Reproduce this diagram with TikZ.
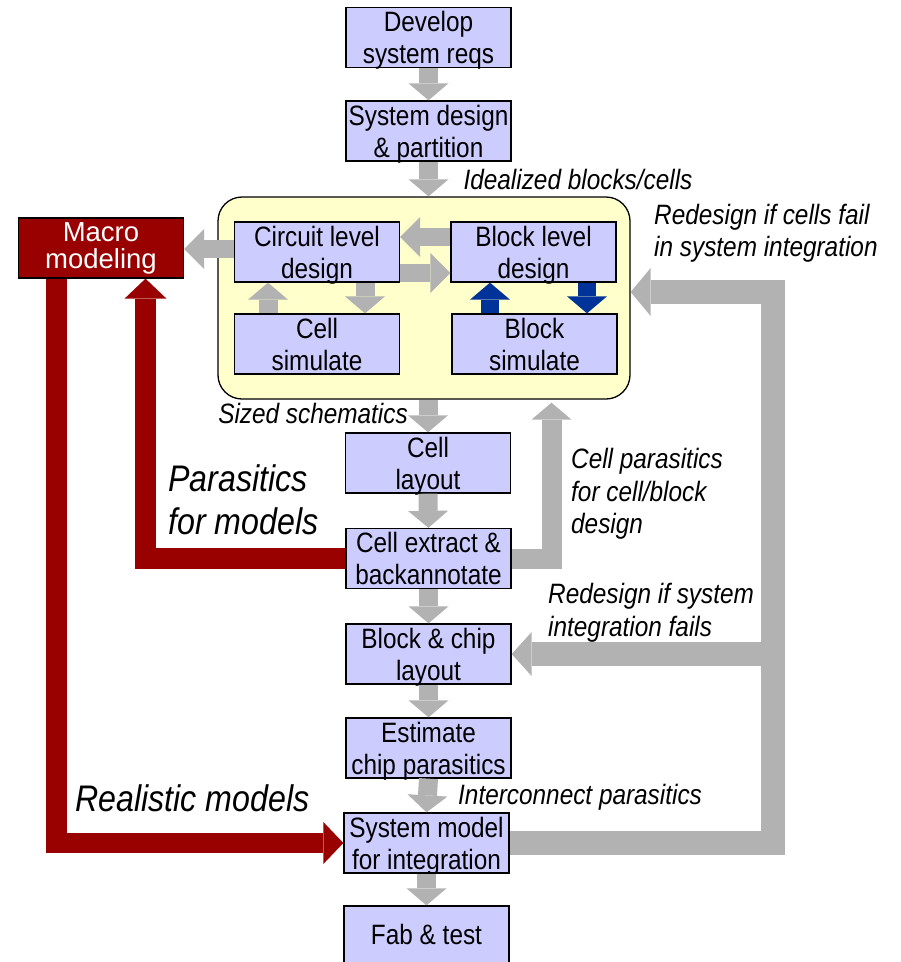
\documentclass[tikz,border=0pt]{standalone}
\usepackage{fontspec}
\setmainfont{Liberation Sans}[FakeStretch=0.87]
\newfontfamily\macrofont{Liberation Sans}
\usetikzlibrary{arrows.meta,calc}
\definecolor{lav}{HTML}{CCCCFF}
\definecolor{pale}{HTML}{FFFFCC}
\definecolor{agray}{HTML}{B2B2B2}
\definecolor{dred}{HTML}{990000}
\definecolor{dblue}{HTML}{003399}
\newcommand{\boxfont}{\fontsize{28}{32}\selectfont}
\newcommand{\lblfont}{\fontsize{28}{32.5}\selectfont\itshape}
\newcommand{\bigfont}{\fontsize{37}{43}\selectfont\itshape}
\begin{document}
\begin{tikzpicture}[x=1pt,y=-1pt,
  box/.style={draw=black,line width=1.3pt,fill=lav,minimum width=165pt,minimum height=60pt,inner sep=0pt,align=center,font=\boxfont,text depth=0pt},
  redbox/.style={box,fill=dred,text=white,font=\macrofont\fontsize{27.5}{27}\selectfont,text depth=5.4pt},
  lbl/.style={inner sep=0pt,align=left,font=\lblfont},
  biglbl/.style={inner sep=0pt,align=left,font=\bigfont},
  ga/.style={draw=agray,line width=19pt,-{Triangle[width=40pt,length=17pt,line width=0pt]}},
  gh/.style={draw=agray,line width=18pt,-{Triangle[width=40pt,length=20pt,line width=0pt]}},
  ba/.style={draw=dblue,line width=18pt,-{Triangle[width=40pt,length=17pt,line width=0pt]}},
  ra/.style={draw=dred,line width=20.5pt,-{Triangle[width=42pt,length=20pt,line width=0pt]}},
  gl/.style={draw=agray,line width=24pt,-{Triangle[width=48pt,length=20pt,line width=0pt]}}
]
\useasboundingbox (0,0) rectangle (901,962);

% container
\node[draw=black,line width=1.3pt,fill=pale,rounded corners=24pt,minimum width=412pt,minimum height=202pt,inner sep=0pt] (yel) at (424,298) {};

% boxes
\node[box] (dev) at (428.5,37.5) {Develop\\system reqs};
\node[box] (sysd) at (428.5,131) {System design\\\& partition};
\node[box] (circ) at (317,252) {Circuit level\\design};
\node[box] (blk) at (533.5,252) {Block level\\design};
\node[box] (csim) at (317,344) {Cell\\simulate};
\node[box] (bsim) at (534.5,344) {Block\\simulate};
\node[redbox] (macro) at (101,248) {Macro\\modeling};
\node[box] (clay) at (428,463) {Cell\\layout};
\node[box] (cext) at (428.5,558.5) {Cell extract \&\\backannotate};
\node[box] (bchip) at (428.5,654) {Block \& chip\\layout};
\node[box] (est) at (428.5,748) {Estimate\\chip parasitics};
\node[box] (sysm) at (426.5,843) {System model\\for integration};
\node[box,minimum height=57pt] (fab) at (426.5,934.5) {Fab \& test};

\coordinate (loop) at (772.5,292);

% main chain
\draw[ga] (dev.south) -- (sysd.north);
\draw[ga] (sysd.south) -- (sysd.south |- yel.north);
\draw[ga] (yel.south -| clay.north) -- (clay.north);
\draw[ga] (clay.south) -- (cext.north);
\draw[ga] (cext.south) -- (bchip.north);
\draw[ga] (bchip.south) -- (est.north);
\draw[ga] (est.south) -- (sysm.north);
\draw[ga] (sysm.south) -- (fab.north);

% inside container
\draw[gh] (circ.west |- 0,249) -- (macro.east |- 0,249);
\draw[gh] ($(blk.west)+(0,-15)$) -- ($(circ.east)+(0,-15)$);
\draw[gh] ($(circ.east)+(0,21)$) -- ($(blk.west)+(0,21)$);
\draw[ga] ($(circ.south)+(48,0)$) -- ($(csim.north)+(48,0)$);
\draw[ga] ($(csim.north)+(-49,0)$) -- ($(circ.south)+(-49,0)$);
\draw[ba] ($(bsim.north)+(-44.5,0)$) -- ($(blk.south)+(-43.5,0)$);
\draw[ba] ($(blk.south)+(53.5,0)$) -- ($(bsim.north)+(52.5,0)$);

% red paths
\draw[ra] ($(macro.south)+(-44.5,0)$) |- (sysm.west);
\draw[ra] (cext.west) -| ($(macro.south)+(44.5,0)$);

% gray feedback
\draw[ga,line width=20pt] (cext.east) -| ($(yel.south)+(127.5,3)$);
\draw[gl] (sysm.east) -| (loop) -- (loop -| yel.east);
\draw[gl,-{Triangle[width=44pt,length=20pt,line width=0pt]}] (loop |- bchip.east) -- (bchip.east);

% labels
\node[lbl] (lIdeal) at (578,179) {Idealized blocks/cells};
\node[lbl,anchor=west] (lRedCells) at (654,233.5) {Redesign if cells fail\\in system integration};
\node[lbl,anchor=east] (lSized) at (408,413) {Sized schematics};
\node[lbl,anchor=west] (lCellPar) at (571,494) {Cell parasitics\\for cell/block\\design};
\node[biglbl,anchor=west] (lParas) at (168,500) {Parasitics\\for models};
\node[lbl,anchor=west] (lRedSys) at (548,613) {Redesign if system\\integration fails};
\node[lbl,anchor=west] (lInter) at (458,797) {Interconnect parasitics};
\node[biglbl,anchor=west] (lReal) at (75,798) {Realistic models};
\end{tikzpicture}
\end{document}
